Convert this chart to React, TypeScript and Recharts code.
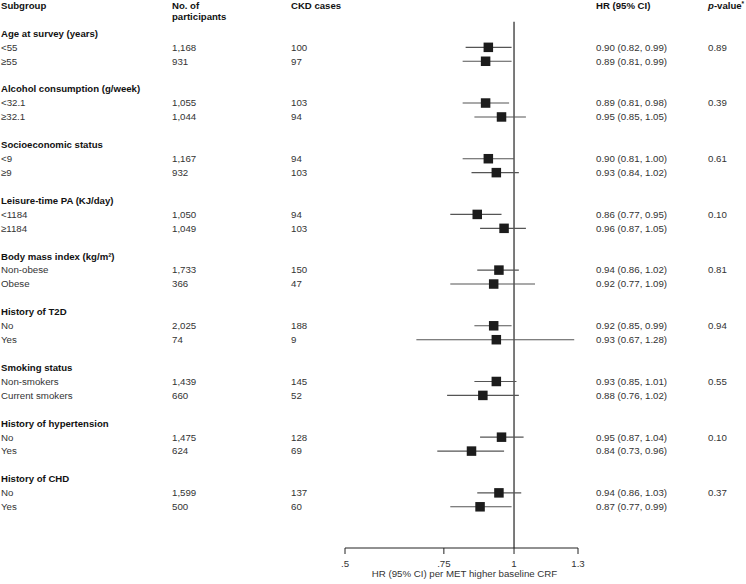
import React from "react";
import {
  ScatterChart,
  Scatter,
  XAxis,
  YAxis,
  ErrorBar,
  ReferenceLine,
} from "recharts";

const groupNames = [
  "Age at survey (years)",
  "Alcohol consumption (g/week)",
  "Socioeconomic status",
  "Leisure-time PA (KJ/day)",
  "Body mass index (kg/m²)",
  "History of T2D",
  "Smoking status",
  "History of hypertension",
  "History of CHD",
];

const subgroupLabels = [
  ["<55", "≥55"],
  ["<32.1", "≥32.1"],
  ["<9", "≥9"],
  ["<1184", "≥1184"],
  ["Non-obese", "Obese"],
  ["No", "Yes"],
  ["Non-smokers", "Current smokers"],
  ["No", "Yes"],
  ["No", "Yes"],
];

const participants = [
  ["1,168", "931"],
  ["1,055", "1,044"],
  ["1,167", "932"],
  ["1,050", "1,049"],
  ["1,733", "366"],
  ["2,025", "74"],
  ["1,439", "660"],
  ["1,475", "624"],
  ["1,599", "500"],
];

const ckdCases = [
  [100, 97],
  [103, 94],
  [94, 103],
  [94, 103],
  [150, 47],
  [188, 9],
  [145, 52],
  [128, 69],
  [137, 60],
];

const hrValues = [
  [0.9, 0.89],
  [0.89, 0.95],
  [0.9, 0.93],
  [0.86, 0.96],
  [0.94, 0.92],
  [0.92, 0.93],
  [0.93, 0.88],
  [0.95, 0.84],
  [0.94, 0.87],
];

const ciLower = [
  [0.82, 0.81],
  [0.81, 0.85],
  [0.81, 0.84],
  [0.77, 0.87],
  [0.86, 0.77],
  [0.85, 0.67],
  [0.85, 0.76],
  [0.87, 0.73],
  [0.86, 0.77],
];

const ciUpper = [
  [0.99, 0.99],
  [0.98, 1.05],
  [1.0, 1.02],
  [0.95, 1.05],
  [1.02, 1.09],
  [0.99, 1.28],
  [1.01, 1.02],
  [1.04, 0.96],
  [1.03, 0.99],
];

const pValues = ["0.89", "0.39", "0.61", "0.10", "0.81", "0.94", "0.55", "0.10", "0.37"];

const xTicks = [0.5, 0.75, 1, 1.3];
const xTickLabels = [".5", ".75", "1", "1.3"];
const axisTitle = "HR (95% CI) per MET higher baseline CRF";

const FONT = '"Liberation Sans", Arial, Helvetica, sans-serif';
const TEXT_COLOR = "#333";
const BOLD_COLOR = "#111";
const FS = 9.7;
const FS_BOLD = 9.6;

const COL_SUB = 1;
const COL_N = 172;
const COL_CASES = 291;
const COL_HR = 596;
const COL_P = 708;

// build rows
const markRows: any[] = [];
const textRows: any[] = [];
textRows.push({ x: 1, y: -1.98, kind: "colhead" });
textRows.push({ x: 1, y: -1.19, kind: "colhead2" });
groupNames.forEach((g, gi) => {
  const base = gi * 4;
  textRows.push({ x: 1, y: base, kind: "group", label: g });
  for (let j = 0; j < 2; j++) {
    const hr = hrValues[gi][j];
    const lo = ciLower[gi][j];
    const hi = ciUpper[gi][j];
    textRows.push({
      x: 1,
      y: base + 1 + j,
      kind: "sub",
      label: subgroupLabels[gi][j],
      n: participants[gi][j],
      cases: ckdCases[gi][j],
      hrText: `${hr.toFixed(2)} (${lo.toFixed(2)}, ${hi.toFixed(2)})`,
      p: j === 0 ? pValues[gi] : "",
    });
    markRows.push({ x: hr, y: base + 1 + j, err: [hr - lo, hi - hr] });
  }
});

const TextShape = (props: any) => {
  const { cy, payload } = props;
  const common = { fontFamily: FONT, dy: "0.35em" } as any;
  if (payload.kind === "colhead") {
    return (
      <g>
        <text x={COL_SUB} y={cy} {...common} fontSize={FS_BOLD} fontWeight="bold" fill={BOLD_COLOR}>Subgroup</text>
        <text x={COL_N} y={cy} {...common} fontSize={FS_BOLD} fontWeight="bold" fill={BOLD_COLOR}>No. of</text>
        <text x={COL_CASES} y={cy} {...common} fontSize={FS_BOLD} fontWeight="bold" fill={BOLD_COLOR}>CKD cases</text>
        <text x={COL_HR} y={cy} {...common} fontSize={FS_BOLD} fontWeight="bold" fill={BOLD_COLOR}>HR (95% CI)</text>
        <text x={COL_P} y={cy} {...common} fontSize={FS_BOLD} fontWeight="bold" fill={BOLD_COLOR}>
          <tspan fontStyle="italic">p</tspan>
          <tspan>-value</tspan>
          <tspan fontSize={6.5} dy="-3">*</tspan>
        </text>
      </g>
    );
  }
  if (payload.kind === "colhead2") {
    return (
      <text x={COL_N} y={cy} {...common} fontSize={FS_BOLD} fontWeight="bold" fill={BOLD_COLOR}>participants</text>
    );
  }
  if (payload.kind === "group") {
    return (
      <text x={COL_SUB} y={cy} {...common} fontSize={FS_BOLD} fontWeight="bold" fill={BOLD_COLOR}>{payload.label}</text>
    );
  }
  return (
    <g>
      <text x={COL_SUB} y={cy} {...common} fontSize={FS} fill={TEXT_COLOR}>{payload.label}</text>
      <text x={COL_N} y={cy} {...common} fontSize={FS} fill={TEXT_COLOR}>{payload.n}</text>
      <text x={COL_CASES} y={cy} {...common} fontSize={FS} fill={TEXT_COLOR}>{payload.cases}</text>
      <text x={COL_HR} y={cy} {...common} fontSize={FS} fill={TEXT_COLOR}>{payload.hrText}</text>
      {payload.p ? (
        <text x={COL_P} y={cy} {...common} fontSize={FS} fill={TEXT_COLOR}>{payload.p}</text>
      ) : null}
    </g>
  );
};

const SquareShape = (props: any) => {
  const { cx, cy } = props;
  const s = 9.5;
  return <rect x={cx - s / 2} y={cy - s / 2} width={s} height={s} fill="#1c1c1c" />;
};

const AxisTitle = (props: any) => {
  const vb = props.viewBox || {};
  return (
    <text
      x={vb.x + vb.width / 2 + 3}
      y={vb.y + 26}
      dy="0.35em"
      textAnchor="middle"
      fontFamily={FONT}
      fontSize={FS}
      fill={TEXT_COLOR}
    >
      {axisTitle}
    </text>
  );
};

export default function App() {
  return (
    <div style={{ position: "absolute", left: 0, top: 0, background: "#fff" }}>
      <ScatterChart
        width={746}
        height={584}
        margin={{ top: 0, right: 168, bottom: 0, left: 345 }}
      >
        <XAxis
          type="number"
          dataKey="x"
          scale="log"
          domain={[0.5, 1.3]}
          ticks={xTicks}
          tickFormatter={(v: number) => xTickLabels[xTicks.indexOf(v)] ?? String(v)}
          height={36}
          tickSize={6}
          tickMargin={6}
          stroke="#222"
          tick={{ fill: TEXT_COLOR, fontSize: FS, fontFamily: FONT }}
          label={{ content: AxisTitle } as any}
        />
        <YAxis
          type="number"
          dataKey="y"
          domain={[-2.4, 36.96]}
          reversed
          hide
          width={0}
        />
        <ReferenceLine
          segment={[
            { x: 1, y: -0.83 },
            { x: 1, y: 36.96 },
          ]}
          stroke="#222"
          strokeWidth={1.2}
        />
        <Scatter data={textRows} shape={TextShape} isAnimationActive={false} />
        <Scatter data={markRows} shape={SquareShape} isAnimationActive={false}>
          <ErrorBar dataKey="err" direction="x" width={0} stroke="#555" strokeWidth={1.1} />
        </Scatter>
      </ScatterChart>
    </div>
  );
}
